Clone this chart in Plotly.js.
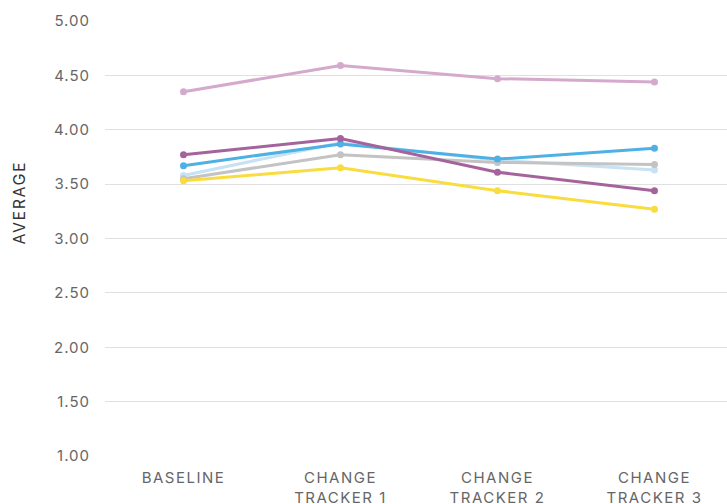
<!DOCTYPE html>
<html>
<head>
<meta charset="utf-8">
<script src="https://cdn.plot.ly/plotly-3.0.1.min.js"></script>
<style>
html,body{margin:0;padding:0;background:#fff;}
#chart{width:727px;height:504px;}
#chart .xtick text{letter-spacing:1.5px;}
#chart .ytick text{letter-spacing:1px;}
#chart .annotation-text{letter-spacing:1.5px;}
</style>
</head>
<body>
<div id="chart"></div>
<script>
var categories = ["BASELINE", "CHANGE<br>TRACKER 1", "CHANGE<br>TRACKER 2", "CHANGE<br>TRACKER 3"];
var seriesNames = ["Series A", "Series B", "Series C", "Series D", "Series E", "Series F"];
var lightBlue = [3.58, 3.88, 3.72, 3.63];
var gray = [3.55, 3.77, 3.70, 3.68];
var blue = [3.67, 3.87, 3.73, 3.83];
var purple = [3.77, 3.92, 3.61, 3.44];
var yellow = [3.53, 3.65, 3.44, 3.27];
var pink = [4.35, 4.59, 4.47, 4.44];
var yTicks = [1, 1.5, 2, 2.5, 3, 3.5, 4, 4.5, 5];
var yTickText = ["1.00", "1.50", "2.00", "2.50", "3.00", "3.50", "4.00", "4.50", "5.00"];
var yTitle = "AVERAGE";

var seriesData = [lightBlue, gray, blue, purple, yellow, pink];
var colors = ["#c6e2f4", "#c3c3c3", "#4fb1e3", "#a5639c", "#f9dc3d", "#d5a9cb"];

var traces = seriesData.map(function (vals, i) {
  return {
    x: [0, 1, 2, 3],
    y: vals,
    name: seriesNames[i],
    type: "scatter",
    mode: "lines+markers",
    line: {color: colors[i], width: 3},
    marker: {color: colors[i], size: 7},
    hoverinfo: "y"
  };
});

var font = "Inter, 'Open Sans', sans-serif";
var layout = {
  width: 727,
  height: 504,
  margin: {l: 105, r: 0, t: 21, b: 48},
  paper_bgcolor: "#fff",
  plot_bgcolor: "#fff",
  showlegend: false,
  font: {family: font, color: "#666", size: 15},
  xaxis: {
    tickvals: [0, 1, 2, 3],
    ticktext: categories,
    range: [-0.5, 3.462],
    showgrid: false,
    zeroline: false,
    showline: false,
    tickfont: {family: font, size: 15, color: "#666"},
    ticklabelstandoff: 11
  },
  yaxis: {
    range: [1, 5],
    tickvals: yTicks,
    ticktext: yTickText,
    showgrid: true,
    gridcolor: "#e0e0e0",
    gridwidth: 1,
    zeroline: false,
    showline: false,
    tickfont: {family: font, size: 15, color: "#666"},
    ticklabelstandoff: 14
  },
  annotations: [{
    text: yTitle,
    xref: "paper",
    yref: "paper",
    x: -0.138,
    y: 0.5816,
    xanchor: "center",
    yanchor: "middle",
    textangle: -90,
    showarrow: false,
    font: {family: font, size: 16, color: "#333"}
  }]
};

Plotly.newPlot("chart", traces, layout, {displayModeBar: false, staticPlot: true});
</script>
</body>
</html>
